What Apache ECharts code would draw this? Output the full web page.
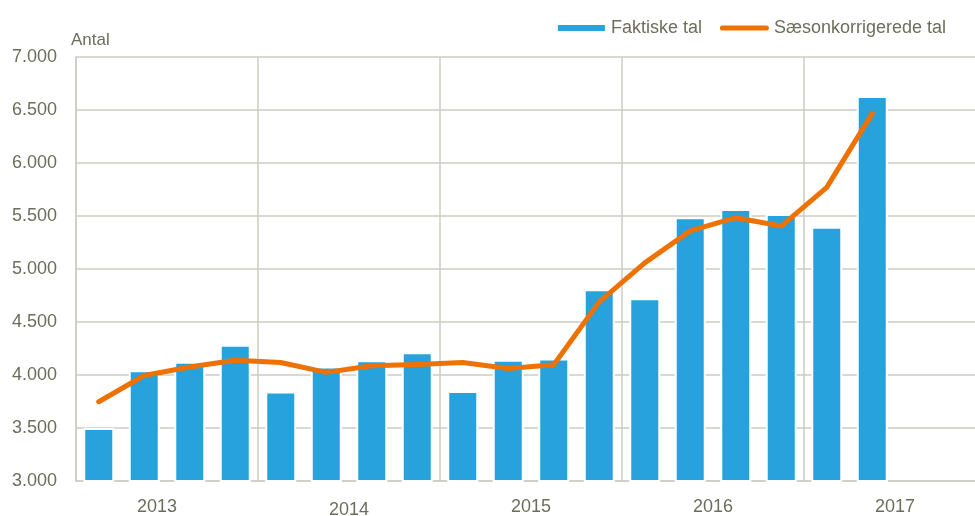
<!DOCTYPE html>
<html>
<head>
<meta charset="utf-8">
<script src="https://cdn.jsdelivr.net/npm/echarts@6/dist/echarts.min.js"></script>
<style>
  html, body { margin: 0; padding: 0; background: #fff; }
  #chart { width: 975px; height: 516px; }
</style>
</head>
<body>
<div id="chart"></div>
<script>
var quarters = ['2013K1', '2013K2', '2013K3', '2013K4', '2014K1', '2014K2', '2014K3', '2014K4',
  '2015K1', '2015K2', '2015K3', '2015K4', '2016K1', '2016K2', '2016K3', '2016K4',
  '2017K1', '2017K2', '2017K3', '2017K4'];
var years = ['2013', '2014', '2015', '2016', '2017'];
var faktiske = [3500, 4045, 4125, 4285, 3845, 4080, 4140, 4215, 3848, 4145, 4155, 4810,
  4725, 5488, 5565, 5518, 5398, 6632];
var saeson = [3748, 3995, 4075, 4140, 4118, 4025, 4088, 4100, 4118, 4062, 4097, 4690,
  5058, 5360, 5484, 5405, 5770, 6468];

var textColor = '#6d6d5d';
var gridColor = '#cdcdc3';

var chartDom = document.getElementById('chart');
var myChart = echarts.init(chartDom);

function danishNumber(v) {
  return String(v).replace(/\B(?=(\d{3})+(?!\d))/g, '.');
}

// the year labels in the original sit a little unevenly
var yearData = years.map(function (y) {
  if (y === '2013') return { value: y, textStyle: { padding: [0, 20, 0, 0] } };
  if (y === '2014') return { value: y, textStyle: { padding: [3, 0, 0, 0] } };
  return y;
});

var option = {
  animation: false,
  textStyle: { fontFamily: 'Liberation Sans, Arial, sans-serif' },
  title: {
    text: 'Antal',
    left: 66,
    top: 27,
    textStyle: { fontSize: 17, fontWeight: 'normal', color: textColor }
  },
  legend: {
    right: 24,
    top: 14,
    itemGap: 18,
    itemWidth: 49,
    itemHeight: 8,
    textStyle: { fontSize: 18, color: textColor },
    data: [
      { name: 'Faktiske tal', icon: 'rect' },
      { name: 'Sæsonkorrigerede tal', icon: 'path://M2.5,0 L45.5,0 A2.5,2.5 0 0 1 45.5,5 L2.5,5 A2.5,2.5 0 0 1 2.5,0 Z' }
    ]
  },
  grid: {
    left: 76,
    top: 57,
    bottom: 35,
    right: -11,
    outerBoundsMode: 'none',
    containLabel: false
  },
  xAxis: [
    {
      type: 'category',
      data: quarters,
      axisLine: { show: true, lineStyle: { color: gridColor, width: 1.5 } },
      axisTick: { show: false },
      axisLabel: { show: false },
      splitLine: { show: false }
    },
    {
      type: 'category',
      data: yearData,
      position: 'bottom',
      axisLine: { show: false },
      axisTick: { show: false },
      axisLabel: { fontSize: 18, color: textColor, margin: 17 },
      splitLine: { show: true, interval: 0, lineStyle: { color: gridColor, width: 1.5 } }
    }
  ],
  yAxis: {
    type: 'value',
    min: 3000,
    max: 7000,
    interval: 500,
    axisLine: { show: true, lineStyle: { color: gridColor, width: 1.5 } },
    axisTick: { show: false },
    axisLabel: {
      fontSize: 18,
      color: textColor,
      margin: 19,
      formatter: function (v) { return danishNumber(v); }
    },
    splitLine: { lineStyle: { color: gridColor, width: 1.5 } }
  },
  series: [
    {
      name: 'Faktiske tal',
      type: 'bar',
      xAxisIndex: 0,
      data: faktiske,
      barWidth: 31,
      itemStyle: { color: '#27a2dc', borderColor: '#ffffff', borderWidth: 2 }
    },
    {
      name: 'Sæsonkorrigerede tal',
      type: 'line',
      xAxisIndex: 0,
      data: saeson,
      symbol: 'none',
      color: '#ee7203',
      lineStyle: { color: '#ee7203', width: 5, cap: 'round', join: 'round' }
    }
  ]
};

option && myChart.setOption(option);
window.addEventListener('resize', function () { myChart.resize(); });
</script>
</body>
</html>
